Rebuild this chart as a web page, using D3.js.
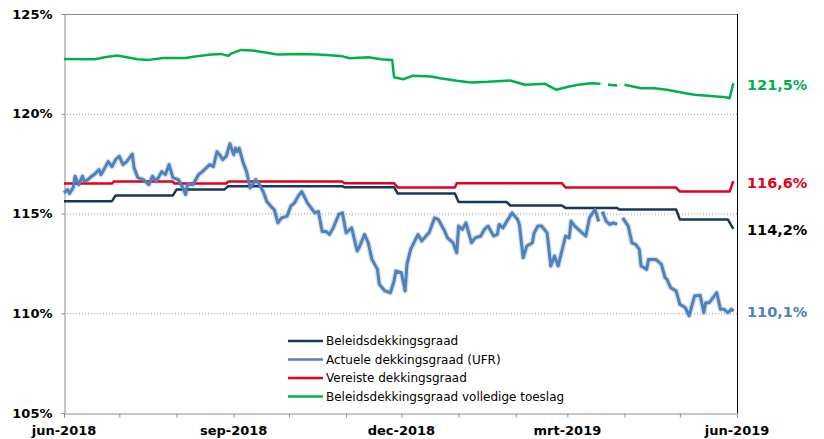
<!DOCTYPE html>
<html><head><meta charset="utf-8">
<script src="https://cdn.jsdelivr.net/npm/d3@7"></script>
<style>body{margin:0;background:#fff}svg{display:block}</style>
</head><body><svg id="c" width="824" height="439"></svg>
<script>
// ---------- DATA ----------
const startDate = new Date(2018, 5, 1);
const endDate = new Date(2019, 5, 1);
const yTicks = [105, 110, 115, 120, 125];
const xTickLabels = ["jun-2018", "sep-2018", "dec-2018", "mrt-2019", "jun-2019"];
const seriesNames = ["Beleidsdekkingsgraad", "Actuele dekkingsgraad (UFR)", "Vereiste dekkingsgraad", "Beleidsdekkingsgraad volledige toeslag"];
const endLabels = [121.5, 116.6, 114.2, 110.1];

// days since 1 June 2018
const beleidDays   = [0, 26, 28, 59, 61, 87, 89, 151, 152, 179, 181, 212, 214, 240, 242, 270, 272, 300, 301, 332, 334, 360, 363];
const beleidValues = [115.62, 115.62, 115.9, 115.9, 116.2, 116.2, 116.37, 116.37, 116.32, 116.32, 116.0, 116.0, 115.58, 115.58, 115.4, 115.4, 115.28, 115.28, 115.2, 115.2, 114.7, 114.7, 114.23];

const actueelDays = [0,2,3,5,6,8,10,11,13,15,17,19,20,21,24,26,28,30,32,34,37,38,40,43,46,48,50,53,55,57,59,62,64,66,67,70,73,75,79,81,83,85,86,88,90,92,93,94,95,97,99,101,103,104,106,108,110,113,114,116,118,121,123,125,127,129,132,134,136,138,140,142,144,146,149,151,153,156,159,160,163,165,167,170,171,174,177,179,180,183,185,186,188,192,194,197,198,201,203,206,208,211,213,214,216,218,221,223,226,228,230,233,235,236,238,243,246,247,249,251,254,255,257,259,262,264,266,268,270,272,274,275,277,280,283,285,288,290,291,292,294,296,298,300,301,303,306,308,310,312,313,316,317,321,324,326,327,329,332,334,337,339,342,345,347,348,350,354,356,358,360,362,363];
const actueelValues = [116.03,116.2,116.0,116.3,116.87,116.45,116.87,116.6,116.7,116.87,117.0,117.2,116.95,117.1,117.6,117.35,117.7,117.87,117.45,117.6,117.98,117.3,116.8,116.7,116.45,116.87,116.6,117.1,116.95,117.45,116.8,116.7,116.37,115.95,116.45,116.45,116.95,117.1,117.45,117.35,118.1,117.87,117.7,117.87,118.5,117.95,118.28,118.1,118.28,117.6,117.1,116.28,116.53,116.7,116.45,116.1,115.6,115.28,115.2,114.53,114.78,114.87,115.37,115.53,115.87,116.1,115.53,115.28,115.03,115.1,114.1,114.1,113.95,114.28,114.95,115.03,114.03,114.28,113.12,113.28,113.95,113.53,112.7,112.2,111.45,111.12,111.03,111.62,112.12,112.03,111.12,112.45,113.2,113.95,113.62,113.95,114.03,114.78,114.7,114.2,113.78,113.53,113.03,114.37,114.2,114.53,113.53,113.78,113.87,114.2,114.37,113.87,113.95,114.45,114.28,115.03,114.7,114.45,112.78,113.37,113.53,114.03,114.37,114.37,114.03,112.37,112.87,112.37,113.12,113.87,113.78,114.62,114.37,114.12,113.87,114.78,115.2,114.6,null,115.1,114.62,114.45,114.53,114.45,null,114.78,114.37,113.53,113.45,113.2,112.37,112.2,112.7,112.7,112.45,111.78,111.7,111.28,111.12,110.45,110.28,109.87,110.87,110.9,110.03,110.53,110.53,111.03,110.2,110.2,110.03,110.2,110.1];

const vereistDays   = [0, 26, 27, 59, 60, 88, 89, 151, 152, 179, 181, 212, 213, 270, 272, 332, 334, 361, 363];
const vereistValues = [116.5, 116.5, 116.6, 116.6, 116.5, 116.5, 116.6, 116.6, 116.52, 116.52, 116.3, 116.3, 116.52, 116.52, 116.3, 116.3, 116.1, 116.1, 116.62];

const toeslagDays = [0,17,22,29,34,40,46,54,66,71,80,85,89,91,96,102,109,116,129,138,150,155,165,172,178,179,184,189,199,204,213,221,230,242,250,261,267,274,279,286,291,292,295,300,302,304,313,320,327,337,342,349,359,361,363];
const toeslagValues = [122.75,122.73,122.83,122.92,122.83,122.73,122.7,122.8,122.8,122.87,122.97,123.0,122.9,123.03,123.2,123.17,123.07,122.97,123.0,122.97,122.9,122.78,122.83,122.73,122.7,121.83,121.73,121.9,121.87,121.78,121.65,121.57,121.6,121.67,121.45,121.5,121.2,121.37,121.45,121.53,121.5,null,121.45,121.42,null,121.45,121.28,121.28,121.2,121.03,120.95,120.9,120.83,120.78,121.53];

// ---------- CHART ----------
const colors = ["#17375E", "#4F81BD", "#E3001B", "#00B050"];
const labelColors = ["#00B050", "#E3001B", "#000000", "#4F81BD"];
const svg = d3.select("#c");
const L = 64, R = 737, T = 14, B = 413;
const x = d3.scaleTime().domain([startDate, endDate]).range([L, R]);
const y = d3.scaleLinear().domain([105, 125]).range([B, T]);
const font = "'DejaVu Sans', Verdana, sans-serif";

// grid
svg.append("g").selectAll("line").data(yTicks.filter(v => v > 105 && v < 125)).join("line")
  .attr("x1", L).attr("x2", R).attr("y1", d => y(d) + 0.5).attr("y2", d => y(d) + 0.5)
  .attr("stroke", "#999").attr("stroke-dasharray", "1,2").attr("stroke-width", 1);

// frame
svg.append("line").attr("x1", L).attr("x2", R).attr("y1", T + 0.5).attr("y2", T + 0.5).attr("stroke", "#8c8c8c");
svg.append("line").attr("x1", R + 0.5).attr("x2", R + 0.5).attr("y1", T).attr("y2", B).attr("stroke", "#000");

// y axis
const yAxis = svg.append("g").attr("transform", `translate(${L + 0.5},0)`)
  .call(d3.axisLeft(y).tickValues(yTicks).tickSize(3).tickFormat(d => d + "%"));
yAxis.select(".domain").attr("stroke", "#8c8c8c");
yAxis.selectAll(".tick line").attr("stroke", "#8c8c8c");
yAxis.selectAll("text").attr("font-family", font).attr("font-weight", "bold").attr("font-size", 13)
  .attr("fill", "#000").attr("x", -12);

// x axis
const months = d3.timeMonth.range(startDate, d3.timeDay.offset(endDate, 1));
const majorDates = months.filter((d, i) => i % 3 === 0);
const xAxis = svg.append("g").attr("transform", `translate(0,${B + 0.5})`)
  .call(d3.axisBottom(x).tickValues(months).tickSize(4).tickFormat(() => ""));
xAxis.select(".domain").attr("stroke", "#8c8c8c");
xAxis.selectAll(".tick line").attr("stroke", "#8c8c8c");
svg.append("g").selectAll("text").data(majorDates).join("text")
  .attr("x", d => x(d)).attr("y", 435).attr("text-anchor", "middle")
  .attr("font-family", font).attr("font-weight", "bold").attr("font-size", 13).attr("fill", "#000")
  .text((d, i) => xTickLabels[i]);

// lines
function mk(days, values) {
  return days.map((d, i) => ({ date: d3.timeDay.offset(startDate, d), v: values[i] }));
}
const series = [
  mk(beleidDays, beleidValues),
  mk(actueelDays, actueelValues),
  mk(vereistDays, vereistValues),
  mk(toeslagDays, toeslagValues)
];
const line = d3.line().defined(d => d.v != null).x(d => x(d.date)).y(d => y(d.v));
const widths = [2.5, 3, 2.5, 2.5];
// soft halo for the actual funding ratio
svg.append("path").datum(series[1]).attr("d", line).attr("fill", "none")
  .attr("stroke", "#4F81BD").attr("stroke-opacity", 0.25).attr("stroke-width", 5.5).attr("stroke-linejoin", "round");
const order = [3, 2, 0, 1];
order.forEach(i => {
  svg.append("path").datum(series[i]).attr("d", line).attr("fill", "none")
    .attr("stroke", colors[i]).attr("stroke-width", widths[i]).attr("stroke-linejoin", "round");
});

// end labels
const fmt = v => v.toFixed(1).replace(".", ",") + "%";
svg.append("g").selectAll("text").data(endLabels).join("text")
  .attr("x", 747).attr("y", d => y(d) + 1).attr("dominant-baseline", "central")
  .attr("font-family", font).attr("font-weight", "bold").attr("font-size", 14.5)
  .attr("fill", (d, i) => labelColors[i]).text(d => fmt(d));

// legend
const lg = svg.append("g");
const rowsY = [341, 359.5, 378, 396.5];
seriesNames.forEach((n, i) => {
  lg.append("line").attr("x1", 288).attr("x2", 323).attr("y1", rowsY[i]).attr("y2", rowsY[i])
    .attr("stroke", colors[i]).attr("stroke-width", 2.5);
  lg.append("text").attr("x", 326).attr("y", rowsY[i]).attr("dominant-baseline", "central")
    .attr("font-family", font).attr("font-size", 12).attr("fill", "#000").text(n);
});
</script></body></html>
